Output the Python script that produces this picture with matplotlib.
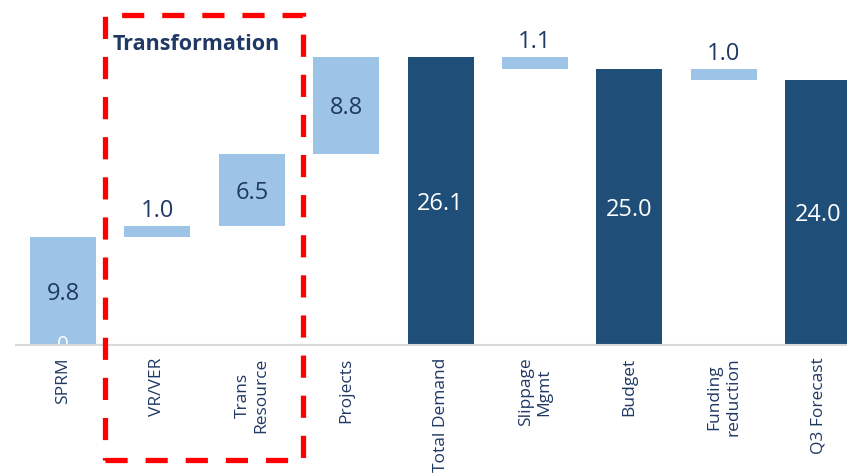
import numpy as np
import matplotlib.pyplot as plt
from matplotlib.patches import Rectangle
from matplotlib.transforms import blended_transform_factory

plt.rcParams['font.family'] = ['Open Sans', 'DejaVu Sans']

# waterfall data
categories = ['SPRM', 'VR/VER', 'Trans\nResource', 'Projects', 'Total Demand',
              'Slippage\nMgmt', 'Budget', 'Funding\nreduction', 'Q3 Forecast']
values = [9.8, 1.0, 6.5, 8.8, 26.1, -1.1, 25.0, -1.0, 24.0]
is_total = [False, False, False, False, True, False, True, False, True]

light = '#9DC3E6'
dark = '#1F4E79'
txt = '#1F3864'

fig = plt.figure(figsize=(8.47, 4.73), dpi=100)
# axes reaches a little past the right edge, like the source
ax = fig.add_axes([15.8 / 847, 128 / 473, 849.6 / 847, 345 / 473])

x = np.arange(len(categories))
bottoms, heights, colors = [], [], []
run = 0.0
for v, t in zip(values, is_total):
    if t:
        bottoms.append(0)
        heights.append(v)
        colors.append(dark)
        run = v
    else:
        if v >= 0:
            bottoms.append(run)
        else:
            bottoms.append(run + v)
        heights.append(abs(v))
        colors.append(light)
        run += v

ax.bar(x, heights, bottom=bottoms, width=0.7, color=colors, zorder=2)

for xi, b, h, c in zip(x, bottoms, heights, colors):
    lab = f'{h:.1f}'
    if h < 2:
        ax.annotate(lab, (xi, b + h), xytext=(0, 2), textcoords='offset points',
                    ha='center', va='bottom', fontsize=17, color=txt)
    else:
        ax.annotate(lab, (xi, b + h / 2), xytext=(0, -2), textcoords='offset points',
                    ha='center', va='center', fontsize=17,
                    color='white' if c == dark else txt)

# stray zero label at the base of the first bar
ax.text(0, -0.1, '0', ha='center', va='center', fontsize=15, color='white', zorder=3)

ax.set_xlim(-0.5, len(categories) - 0.5)
ax.set_ylim(0, 31.28)
ax.set_xticks(x)
ax.set_xticklabels(categories, rotation=90, fontsize=12.5, color=txt,
                   multialignment='center')
ax.tick_params(axis='x', length=0, pad=9)
ax.set_yticks([])
for s in ['top', 'right', 'left']:
    ax.spines[s].set_visible(False)
ax.spines['bottom'].set_color('#D9D9D9')
ax.spines['bottom'].set_linewidth(1.5)
ax.spines['bottom'].set_zorder(4)

# dashed box around the transformation items
tr = blended_transform_factory(ax.transData, fig.transFigure)
box = Rectangle((0.45, 13 / 473), 2.09, (460 - 15) / 473, transform=tr,
                fill=False, edgecolor='#FF0000', linewidth=3.8,
                linestyle=(0, (4.2, 3.4)), clip_on=False, zorder=4)
fig.add_artist(box)
fig.text(113 / 847, 1 - 44 / 473, 'Transformation', fontsize=15.5, fontweight='bold',
         color=txt, ha='left', va='center')

fig.savefig('out.png', dpi=100)
